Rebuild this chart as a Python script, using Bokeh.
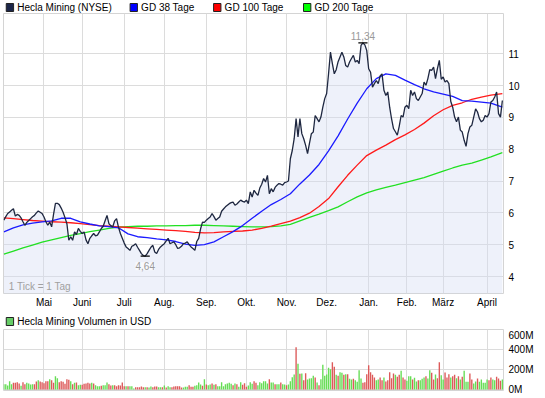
import numpy as np
from bokeh.plotting import figure
from bokeh.models import Range1d, FixedTicker, PrintfTickFormatter, Label
from bokeh.layouts import column
from bokeh.embed import file_html
from bokeh.resources import INLINE
from bokeh.core.properties import value

# ---------------- data ----------------
month_names = ["Mai", "Juni", "Juli", "Aug.", "Sep.", "Okt.", "Nov.", "Dez.", "Jan.", "Feb.", "März", "April"]
month_start_day = [21, 41, 63, 84, 106, 127, 148, 169, 191, 211, 230, 253]
price_ticks = [4, 5, 6, 7, 8, 9, 10, 11]
volume_ticks = [0, 200, 400, 600]

series_names = ["Hecla Mining (NYSE)", "GD 38 Tage", "GD 100 Tage", "GD 200 Tage"]
volume_name = "Hecla Mining Volumen in USD"

price = [
    5.77, 5.88, 5.98, 6.03, 6.08, 6.13, 5.90, 5.95, 5.92, 5.84,
    5.72, 5.61, 5.70, 5.76, 5.82, 5.88, 5.92, 6.00, 6.06, 6.02,
    5.98, 5.87, 5.72, 5.61, 5.71, 5.56, 5.95, 6.30, 6.30, 6.26,
    6.15, 6.02, 5.85, 5.66, 5.14, 5.25, 5.14, 5.40, 5.32, 5.51,
    5.42, 5.35, 5.40, 5.15, 5.03, 5.20, 5.28, 5.35, 5.28, 5.30,
    5.40, 5.51, 5.58, 5.75, 5.92, 5.66, 5.60, 5.56, 5.75, 5.82,
    5.55, 5.35, 5.20, 5.05, 4.93, 4.88, 4.82, 4.95, 4.98, 5.03,
    4.92, 4.82, 4.72, 4.66, 4.64, 4.72, 4.82, 4.92, 4.98, 4.77,
    4.72, 4.85, 4.93, 4.98, 5.03, 5.12, 5.20, 5.03, 5.06, 5.09,
    5.00, 4.88, 4.90, 4.95, 5.03, 5.05, 5.09, 5.00, 4.93, 4.88,
    4.82, 5.10, 5.20, 5.50, 5.71, 5.70, 5.77, 5.82, 5.87, 5.98,
    5.88, 5.77, 5.82, 5.87, 6.05, 6.12, 6.19, 6.24, 6.29, 6.32,
    6.34, 6.24, 6.28, 6.34, 6.40, 6.36, 6.34, 6.40, 6.29, 6.66,
    6.50, 6.71, 6.62, 6.55, 6.78, 6.90, 7.08, 6.97, 7.18, 6.60,
    6.76, 6.66, 6.80, 6.87, 6.92, 6.90, 6.87, 6.95, 6.97, 7.00,
    7.70, 7.96, 8.33, 8.96, 8.39, 8.96, 8.49, 8.33, 8.12, 7.86,
    8.18, 8.49, 8.54, 9.06, 8.96, 8.86, 9.01, 9.32, 9.59, 9.75,
    10.37, 11.05, 10.69, 10.37, 10.50, 10.75, 10.90, 11.05, 10.90, 10.63,
    10.58, 10.74, 10.85, 10.95, 10.74, 10.79, 10.69, 11.26, 11.34, 11.28,
    11.10, 10.53, 10.42, 9.95, 10.06, 10.16, 10.06, 10.30, 10.37, 9.85,
    9.69, 9.80, 9.32, 8.95, 8.65, 8.55, 8.44, 8.72, 9.06, 9.01,
    9.32, 9.38, 9.27, 9.85, 9.69, 9.80, 9.59, 9.53, 9.64, 9.75,
    10.11, 10.01, 10.22, 10.50, 10.48, 10.58, 10.22, 10.53, 10.79, 10.20,
    10.27, 10.11, 10.16, 10.06, 9.50, 9.32, 9.01, 8.86, 9.01, 8.60,
    8.54, 8.28, 8.09, 8.49, 8.70, 8.75, 9.01, 9.27, 9.17, 8.96,
    8.86, 8.91, 9.06, 9.01, 9.12, 9.48, 9.53, 9.64, 9.80, 9.12, 9.01, 9.53,
]

ma_day = [0, 5, 10, 15, 20, 25, 30, 35, 40, 45, 50, 55, 60, 65, 70, 75, 80, 85, 90, 95,
          100, 105, 110, 115, 120, 125, 130, 135, 140, 145, 150, 155, 160, 165, 170, 175,
          180, 185, 190, 195, 200, 205, 210, 215, 220, 225, 230, 235, 240, 245, 250, 255, 261]
gd38 = [5.40, 5.53, 5.62, 5.68, 5.72, 5.75, 5.83, 5.83, 5.72, 5.65,
        5.59, 5.57, 5.53, 5.34, 5.25, 5.22, 5.18, 5.15, 5.10, 5.02,
        4.98, 5.00, 5.09, 5.25, 5.41, 5.60, 5.83, 6.05, 6.26, 6.42,
        6.60, 6.91, 7.19, 7.52, 7.95, 8.42, 8.95, 9.45, 9.90, 10.22,
        10.37, 10.32, 10.17, 10.03, 9.90, 9.80, 9.73, 9.66, 9.53, 9.51,
        9.48, 9.45, 9.32]
gd100 = [5.84, 5.82, 5.79, 5.76, 5.74, 5.72, 5.71, 5.69, 5.66, 5.63,
         5.60, 5.58, 5.56, 5.54, 5.52, 5.50, 5.48, 5.46, 5.44, 5.42,
         5.39, 5.37, 5.38, 5.40, 5.42, 5.43, 5.46, 5.51, 5.58, 5.66,
         5.74, 5.85, 5.99, 6.20, 6.45, 6.82, 7.18, 7.50, 7.80, 7.97,
         8.13, 8.30, 8.45, 8.62, 8.82, 9.05, 9.24, 9.38, 9.46, 9.57,
         9.64, 9.70, 9.75]
gd200 = [4.70, 4.80, 4.90, 4.99, 5.08, 5.15, 5.22, 5.29, 5.35, 5.41,
         5.46, 5.51, 5.55, 5.57, 5.58, 5.58, 5.59, 5.59, 5.60, 5.60,
         5.61, 5.61, 5.60, 5.59, 5.58, 5.57, 5.56, 5.56, 5.57, 5.59,
         5.64, 5.75, 5.86, 5.96, 6.07, 6.19, 6.35, 6.50, 6.63, 6.72,
         6.80, 6.87, 6.95, 7.03, 7.11, 7.21, 7.31, 7.41, 7.50, 7.56,
         7.66, 7.76, 7.89]

# volume in million USD
volume = [
    53, 53, 40, 83, 53, 67, 67, 73, 60, 37, 73, 53, 67, 60, 50, 53, 53, 80, 93, 80,
    73, 63, 83, 83, 103, 93, 67, 133, 113, 73, 83, 77, 57, 103, 97, 83, 53, 67, 70, 43,
    47, 47, 57, 60, 67, 60, 67, 60, 43, 33, 33, 37, 43, 43, 70, 53, 40, 43, 43, 33,
    43, 40, 70, 33, 33, 33, 33, 33, 10, 23, 23, 23, 30, 23, 23, 23, 20, 30, 23, 30,
    30, 23, 23, 23, 40, 20, 33, 23, 23, 30,
    33, 33, 33, 20, 20, 27, 27, 43, 27, 27, 37, 43, 70, 50, 37, 103, 50, 43, 50, 60,
    47, 53, 33, 33, 73, 33, 53, 60, 67, 57, 43, 60, 53, 27, 73, 47, 63, 27, 40, 73,
    57, 83, 67, 43, 73, 63, 83, 83, 60, 103, 70, 70, 53, 53, 53, 70, 53, 50, 43, 50,
    83, 123, 150, 423, 257, 157, 160, 93, 163, 100, 110, 113, 137, 120, 70, 43, 103, 247, 137, 150,
    217, 203, 273, 227, 147, 137, 173, 167, 147, 153, 153, 107, 100, 107,
    93, 77, 193, 110, 67, 73, 153, 243, 173, 147, 120, 93, 100, 120, 93, 120, 80, 93, 173, 113,
    160, 147, 127, 147, 187, 120, 100, 87, 133, 133, 100, 117, 80, 93, 93, 107, 120, 133, 110, 193,
    167, 100, 150, 113, 273, 143, 100, 170, 120, 153, 120, 133, 147, 113, 133, 100, 127, 187, 77, 77,
    160, 100, 60, 80, 110, 77, 100, 67, 67, 100, 93, 120, 100, 93, 127, 110, 87, 100,
]
volume_dir = ("gggggrrrrg" "rrggggrrgr" "rrrrgrrggr" "rrrrrgrgrg" "grrrrrgrgg"
              "grgggrrgrr" "rrrrgrgggr" "rrrrgrggrr" "rggrgrggrr"
              "rrrrgggrrr" "ggggrgrggr" "grgggggggg" "rgrggrrrgg" "grrggggggr"
              "ggrggrggrg" "gggrgrgrrg" "gggrgrgggg" "ggrrgrggrg" "rggr"
              "ggggrrrrrr" "rggrrgrrrr" "rgrrgrrggg" "rggrgggrgg" "rrgrrggrrr"
              "grrgrgrggg" "rrggrggggg" "rrggrrrg")

day = list(range(len(price)))

FONT = "Liberation Sans"
GRID = "#dcdcdc"
W = 545


def header(height):
    h = figure(width=W, height=height, output_backend="svg", toolbar_location=None,
               x_range=Range1d(0, W), y_range=Range1d(height, 0),
               x_axis_location=None, y_axis_location=None, title_location=None,
               min_border=0)
    h.outline_line_color = None
    h.grid.visible = False
    return h


def legend_row(h, names, colors, starts, ymid):
    h.quad(left=[s for s in starts], right=[s + 8 for s in starts],
           top=[ymid - 4] * len(starts), bottom=[ymid + 4] * len(starts),
           fill_color=colors, line_color="#222222", line_width=1)
    h.text(x=[s + 12 for s in starts], y=[ymid] * len(starts), text=names,
           text_font=value(FONT), text_font_size="10px", text_color="black",
           text_baseline="middle", text_align="left")


# ---------------- legend header ----------------
hdr1 = header(13)
legend_row(hdr1, series_names, ["#1b2548", "#0000ff", "#ff0000", "#00ff00"],
           [3, 138, 229, 327], 7)


def style_axis(ax, standoff):
    ax.axis_line_color = None
    ax.major_tick_line_color = None
    ax.minor_tick_line_color = None
    ax.major_tick_out = 0
    ax.major_tick_in = 0
    ax.minor_tick_out = 0
    ax.minor_tick_in = 0
    ax.major_label_text_font = FONT
    ax.major_label_text_font_size = "10px"
    ax.major_label_text_color = "black"
    ax.major_label_standoff = standoff


# ---------------- main chart ----------------
p1 = figure(width=W, height=299, output_backend="svg", toolbar_location=None,
            x_range=Range1d(-0.2, 261.6), y_range=Range1d(3.466, 12.265),
            y_axis_location="right", title_location=None,
            min_border_left=3, min_border_right=42, min_border_top=0, min_border_bottom=19)
p1.outline_line_color = "#d4d4d4"

p1.varea(x=day, y1=0, y2=price, fill_color="#d5ddf2", fill_alpha=0.4)
p1.line(ma_day, gd200, line_color="#22e022", line_width=1.3)
p1.line(ma_day, gd100, line_color="#ff1a1a", line_width=1.3)
p1.line(ma_day, gd38, line_color="#1a1aff", line_width=1.3)
p1.line(day, price, line_color="#1e2740", line_width=1.3)

pr = np.array(price)
imax, imin = int(pr.argmax()), int(pr.argmin())
p1.segment(x0=[imax - 2.4, imin - 2.4], y0=[pr[imax], pr[imin]],
           x1=[imax + 2.4, imin + 2.4], y1=[pr[imax], pr[imin]], line_color="black", line_width=1.3)
p1.add_layout(Label(x=imax, y=pr[imax], y_offset=3, text=f"{pr[imax]:.2f}".replace(".", ","),
                    text_align="center", text_baseline="bottom", text_font=FONT,
                    text_font_size="10px", text_color="#999999"))
p1.add_layout(Label(x=imin, y=pr[imin], y_offset=-6, text=f"{pr[imin]:.2f}".replace(".", ","),
                    text_align="center", text_baseline="top", text_font=FONT,
                    text_font_size="10px", text_color="#999999",
                    background_fill_color="white", background_fill_alpha=0.6))
p1.add_layout(Label(x=2.6, y=3.466, y_offset=2, text="1 Tick = 1 Tag", text_align="left",
                    text_baseline="bottom", text_font=FONT, text_font_size="10px",
                    text_color="#a0a0a0"))

xt = FixedTicker(ticks=month_start_day)
p1.xaxis.ticker = xt
p1.xaxis.major_label_overrides = {d: n for d, n in zip(month_start_day, month_names)}
p1.xgrid.ticker = xt
p1.yaxis.ticker = FixedTicker(ticks=price_ticks)
p1.ygrid.ticker = FixedTicker(ticks=price_ticks)
for g in (p1.xgrid, p1.ygrid):
    g.grid_line_color = GRID
style_axis(p1.xaxis, 3)
style_axis(p1.yaxis, 5)

# ---------------- volume legend header ----------------
hdr2 = header(17)
legend_row(hdr2, [volume_name], ["#66cc66"], [3], 9)

# ---------------- volume chart ----------------
p2 = figure(width=W, height=69, output_backend="svg", toolbar_location=None,
            x_range=p1.x_range, y_range=Range1d(-10, 600),
            x_axis_location=None, y_axis_location="right", title_location=None,
            min_border_left=3, min_border_right=42, min_border_top=0, min_border_bottom=8)
p2.outline_line_color = "#d4d4d4"
vcol = ["#66dd55" if c == "g" else "#dd5a5a" for c in volume_dir]
p2.vbar(x=day, top=volume, bottom=0, width=0.72, fill_color=vcol, line_color=None)

p2.xgrid.ticker = FixedTicker(ticks=month_start_day)
p2.yaxis.ticker = FixedTicker(ticks=volume_ticks)
p2.ygrid.ticker = FixedTicker(ticks=volume_ticks)
p2.yaxis.formatter = PrintfTickFormatter(format="%dM")
for g in (p2.xgrid, p2.ygrid):
    g.grid_line_color = GRID
style_axis(p2.yaxis, 5)

layout = column(hdr1, p1, hdr2, p2, spacing=0)
open("out.html", "w").write(file_html(layout, INLINE))
